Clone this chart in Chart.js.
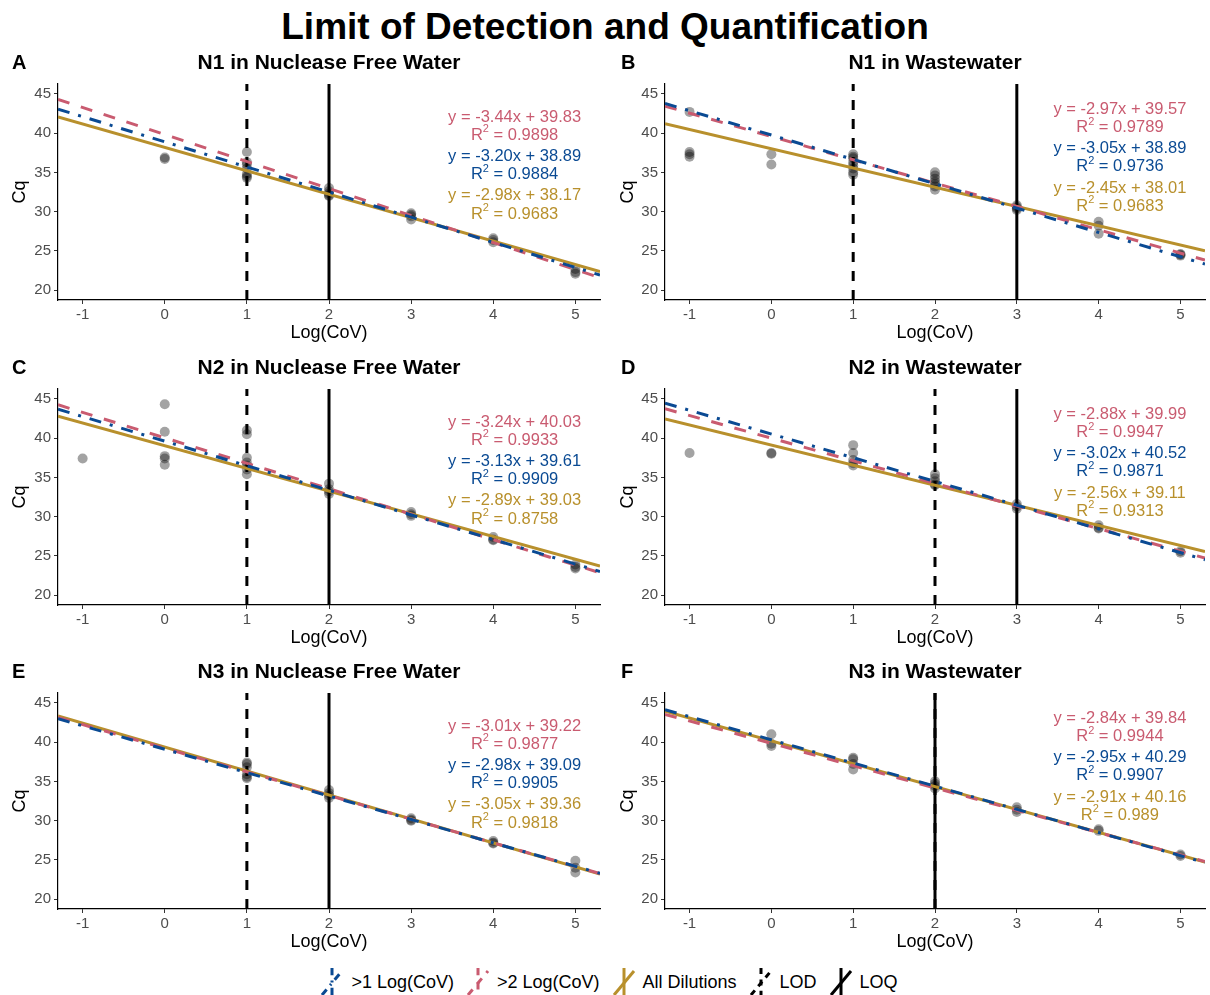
<!DOCTYPE html>
<html>
<head>
<meta charset="utf-8">
<title>Limit of Detection and Quantification</title>
<script src="https://cdn.jsdelivr.net/npm/chart.js@4.4.1/dist/chart.umd.min.js"></script>
<style>
    body { margin: 0; background: #fff; font-family: "Liberation Sans", Arial, sans-serif; }
    #page { position: relative; width: 1210px; height: 995px; overflow: hidden; background: #fff; }
    #mainTitle { position: absolute; top: 7px; left: 0; width: 1210px; text-align: center;
                 font-weight: bold; font-size: 37px; line-height: 40px; white-space: nowrap; }
    .panel { position: absolute; width: 605px; height: 305px; }
    #legend { position: absolute; top: 968px; left: 0; width: 1210px; height: 28px; padding-left: 20px;
              box-sizing: border-box; display: flex; justify-content: center; align-items: center;
              font-size: 18px; white-space: nowrap; }
    #legend canvas { margin-right: 7px; }
    #legend span { margin-right: 12px; }
</style>
</head>
<body>
<div id="page">
    <div id="mainTitle">Limit of Detection and Quantification</div>
    <div id="legend"></div>
</div>
<script>
// ===== DATA =====
const logCov = [-1, 0, 1, 2, 3, 4, 5];
const xTicks = [-1, 0, 1, 2, 3, 4, 5];
const yTicks = [20, 25, 30, 35, 40, 45];

const panelLetters = ["A", "B", "C", "D", "E", "F"];
const panelTitles = [
    "N1 in Nuclease Free Water", "N1 in Wastewater",
    "N2 in Nuclease Free Water", "N2 in Wastewater",
    "N3 in Nuclease Free Water", "N3 in Wastewater"
];

// Cq replicates for each Log(CoV) level (-1 .. 5)
const cqN1Water = [[], [36.9, 36.7], [37.6, 36.3, 36.0, 35.5, 34.8, 34.5, 34.3], [33.0, 32.6, 32.3, 32.1, 32.0], [29.8, 29.6, 29.4, 29.0], [26.6, 26.4, 26.1], [22.7, 22.3, 22.1]];
const cqN1Waste = [[42.7, 37.6, 37.3, 37.0], [37.3, 36.0], [37.3, 37.0, 36.8, 36.3, 35.9, 35.5, 35.0, 34.7], [35.0, 34.6, 34.2, 33.8, 33.5, 33.2, 32.8], [30.8, 30.6, 30.4, 30.2], [28.7, 28.2, 27.2], [24.6, 24.5, 24.4]];
const cqN2Water = [[37.4], [44.3, 40.8, 37.7, 37.4, 36.6], [41.0, 40.5, 37.5, 36.9, 36.5, 36.0, 35.4], [34.2, 33.5, 33.2, 32.9], [30.6, 30.3, 30.1], [27.4, 27.1, 27.0], [23.9, 23.6, 23.4]];
const cqN2Waste = [[38.1], [38.1, 38.0], [39.1, 38.1, 37.2, 36.8, 36.5], [35.4, 34.9, 34.5, 34.1, 34.0], [31.6, 31.3, 31.0], [28.9, 28.6, 28.5], [25.6, 25.4]];
const cqN3Water = [[], [], [37.4, 37.2, 36.8, 35.9, 35.6, 35.4], [33.9, 33.5, 33.2, 32.9], [30.3, 30.1, 30.0], [27.4, 27.2, 27.1], [24.9, 24.0, 23.4]];
const cqN3Waste = [[], [41.0, 39.8, 39.5], [38.0, 37.8, 37.2, 36.5], [35.0, 34.7, 34.4, 34.1], [31.7, 31.4, 31.1], [28.9, 28.7], [25.7, 25.5]];
const cqPanels = [cqN1Water, cqN1Waste, cqN2Water, cqN2Waste, cqN3Water, cqN3Waste];

// LOD / LOQ in Log(CoV)
const lod = [1, 1, 1, 2, 1, 2];
const loq = [2, 3, 2, 3, 2, 2];

// fitted lines as drawn (slope, intercept)
const gt1Slope = [-3.20, -3.10, -3.13, -3.02, -2.98, -2.95];
const gt1Intercept = [38.89, 39.75, 39.61, 40.52, 39.09, 40.29];
const gt2Slope = [-3.44, -2.97, -3.24, -2.88, -3.01, -2.84];
const gt2Intercept = [39.83, 39.57, 40.03, 39.99, 39.22, 39.84];
const allSlope = [-2.98, -2.45, -2.89, -2.56, -3.05, -2.91];
const allIntercept = [38.17, 38.01, 39.03, 39.11, 39.36, 40.16];

// equation labels as printed
const gt2Eq = ["y = -3.44x + 39.83", "y = -2.97x + 39.57", "y = -3.24x + 40.03", "y = -2.88x + 39.99", "y = -3.01x + 39.22", "y = -2.84x + 39.84"];
const gt2R2 = ["0.9898", "0.9789", "0.9933", "0.9947", "0.9877", "0.9944"];
const gt1Eq = ["y = -3.20x + 38.89", "y = -3.05x + 38.89", "y = -3.13x + 39.61", "y = -3.02x + 40.52", "y = -2.98x + 39.09", "y = -2.95x + 40.29"];
const gt1R2 = ["0.9884", "0.9736", "0.9909", "0.9871", "0.9905", "0.9907"];
const allEq = ["y = -2.98x + 38.17", "y = -2.45x + 38.01", "y = -2.89x + 39.03", "y = -2.56x + 39.11", "y = -3.05x + 39.36", "y = -2.91x + 40.16"];
const allR2 = ["0.9683", "0.9683", "0.8758", "0.9313", "0.9818", "0.989"];

const legendLabels = [">1 Log(CoV)", ">2 Log(CoV)", "All Dilutions", "LOD", "LOQ"];

// ===== STYLE =====
const FONT = '"Liberation Sans", Arial, sans-serif';
const BLUE = "#0a4a93";
const RED = "#c95b70";
const GOLD = "#b8902c";
const X_MIN = -1.3, X_MAX = 5.3, Y_MIN = 18.75, Y_MAX = 46.25;
const rowTops = [40, 345, 649];
const dashGt1 = [12, 9, 3, 9];
const dashGt2 = [12, 12];
const dashLod = [10, 9];

const page = document.getElementById("page");

function drawR2(ctx, value, cx, y) {
    const big = "16.5px " + FONT, small = "11px " + FONT;
    ctx.font = big;
    const wR = ctx.measureText("R").width;
    const rest = " = " + value;
    const wRest = ctx.measureText(rest).width;
    ctx.font = small;
    const w2 = ctx.measureText("2").width;
    let x = cx - (wR + w2 + wRest) / 2;
    ctx.textAlign = "left";
    ctx.font = big; ctx.fillText("R", x, y); x += wR;
    ctx.font = small; ctx.fillText("2", x, y - 6); x += w2;
    ctx.font = big; ctx.fillText(rest, x, y);
}

// texts around each panel: letter, title, axis titles, equations
const panelText = {
    id: "panelText",
    afterDraw(chart) {
        const i = chart.options.plugins.panelText.index;
        const col = i % 2;
        const ctx = chart.ctx;
        const { left, right, top, bottom } = chart.chartArea;
        const cx = (left + right) / 2;
        ctx.save();
        ctx.fillStyle = "#000";
        ctx.textBaseline = "middle";

        ctx.font = "bold 20px " + FONT;
        ctx.textAlign = "left";
        ctx.fillText(panelLetters[i], col ? 16 : 12, 23);
        ctx.font = "bold 21px " + FONT;
        ctx.textAlign = "center";
        ctx.fillText(panelTitles[i], cx, 23);

        ctx.font = "18px " + FONT;
        ctx.fillText("Log(CoV)", cx, 293);

        // equations
        const xs = chart.scales.x, ys = chart.scales.y;
        const nx = xs.getPixelForValue(4.26);
        const y0 = col ? 43 : 42;
        const groups = [[gt2Eq, gt2R2, RED], [gt1Eq, gt1R2, BLUE], [allEq, allR2, GOLD]];
        groups.forEach((g, k) => {
            ctx.fillStyle = g[2];
            ctx.font = "16.5px " + FONT;
            ctx.textAlign = "center";
            ctx.fillText(g[0][i], nx, ys.getPixelForValue(y0 - 5 * k));
            drawR2(ctx, g[1][i], nx, ys.getPixelForValue(y0 - 5 * k - 2.3));
        });

        ctx.fillStyle = "#000";
        ctx.font = "18px " + FONT;
        ctx.textAlign = "center";
        ctx.translate(col ? 23 : 20, (top + bottom) / 2);
        ctx.rotate(-Math.PI / 2);
        ctx.fillText("Cq", 0, 0);
        ctx.restore();
    }
};

function buildPanel(i) {
    const col = i % 2, row = Math.floor(i / 2);
    const wrap = document.createElement("div");
    wrap.className = "panel";
    wrap.style.left = (col * 605) + "px";
    wrap.style.top = rowTops[row] + "px";
    const canvas = document.createElement("canvas");
    canvas.width = 605;
    canvas.height = 305;
    wrap.appendChild(canvas);
    page.appendChild(wrap);

    const points = [];
    cqPanels[i].forEach((reps, k) => {
        reps.forEach(v => points.push({ x: logCov[k], y: v }));
    });

    const fitLine = (m, b) => [X_MIN, X_MAX].map(x => ({ x: x, y: m * x + b }));
    const vLine = x => [{ x: x, y: Y_MIN }, { x: x, y: Y_MAX }];
    const lineSet = (data, color, dash, order) => ({
        type: "line", data: data, borderColor: color, borderWidth: 3, borderDash: dash,
        pointRadius: 0, showLine: true, fill: false, tension: 0, order: order
    });

    new Chart(canvas, {
        type: "scatter",
        data: {
            datasets: [
                lineSet(fitLine(gt1Slope[i], gt1Intercept[i]), BLUE, dashGt1, 1),
                lineSet(fitLine(gt2Slope[i], gt2Intercept[i]), RED, dashGt2, 2),
                lineSet(fitLine(allSlope[i], allIntercept[i]), GOLD, [], 3),
                lineSet(vLine(loq[i]), "#000", [], 4),
                lineSet(vLine(lod[i]), "#000", dashLod, 5),
                {
                    type: "scatter", data: points, order: 6,
                    backgroundColor: "rgba(0,0,0,0.36)", borderWidth: 0,
                    pointRadius: 5, pointHoverRadius: 5
                }
            ]
        },
        options: {
            responsive: false,
            animation: false,
            events: [],
            layout: { padding: { top: 44, left: 0, right: col ? 0 : 2, bottom: 0 } },
            scales: {
                x: {
                    type: "linear", min: X_MIN, max: X_MAX,
                    afterBuildTicks: s => { s.ticks = xTicks.map(v => ({ value: v })); },
                    afterFit: s => { s.height = 45; },
                    ticks: { font: { size: 15, family: FONT }, color: "#4d4d4d", padding: 2 },
                    grid: { display: true, drawOnChartArea: false, drawTicks: true, tickLength: 4, color: "#333" },
                    border: { display: true, color: "#000", width: 1.2 }
                },
                y: {
                    type: "linear", min: Y_MIN, max: Y_MAX,
                    afterBuildTicks: s => { s.ticks = yTicks.map(v => ({ value: v })); },
                    afterFit: s => { s.width = col ? 60 : 58; },
                    ticks: { font: { size: 15, family: FONT }, color: "#4d4d4d", padding: 3 },
                    grid: { display: true, drawOnChartArea: false, drawTicks: true, tickLength: 4, color: "#333" },
                    border: { display: true, color: "#000", width: 1.2 }
                }
            },
            plugins: {
                legend: { display: false },
                tooltip: { enabled: false },
                panelText: { index: i }
            }
        },
        plugins: [panelText]
    });
}

for (let i = 0; i < 6; i++) buildPanel(i);

// ===== LEGEND =====
const legendStyles = [
    { color: BLUE, dash: dashGt1 },
    { color: RED, dash: dashGt2 },
    { color: GOLD, dash: [] },
    { color: "#000", dash: dashLod },
    { color: "#000", dash: [] }
];
const legendBox = document.getElementById("legend");
legendLabels.forEach((label, k) => {
    const key = document.createElement("canvas");
    key.width = 24;
    key.height = 28;
    const c = key.getContext("2d");
    c.strokeStyle = legendStyles[k].color;
    c.lineWidth = 3;
    c.setLineDash(legendStyles[k].dash.map(d => d * 0.6));
    c.beginPath(); c.moveTo(2, 27); c.lineTo(22, 3); c.stroke();
    c.beginPath(); c.moveTo(12, 0); c.lineTo(12, 28); c.stroke();
    legendBox.appendChild(key);
    const span = document.createElement("span");
    span.textContent = label;
    legendBox.appendChild(span);
});
</script>
</body>
</html>
